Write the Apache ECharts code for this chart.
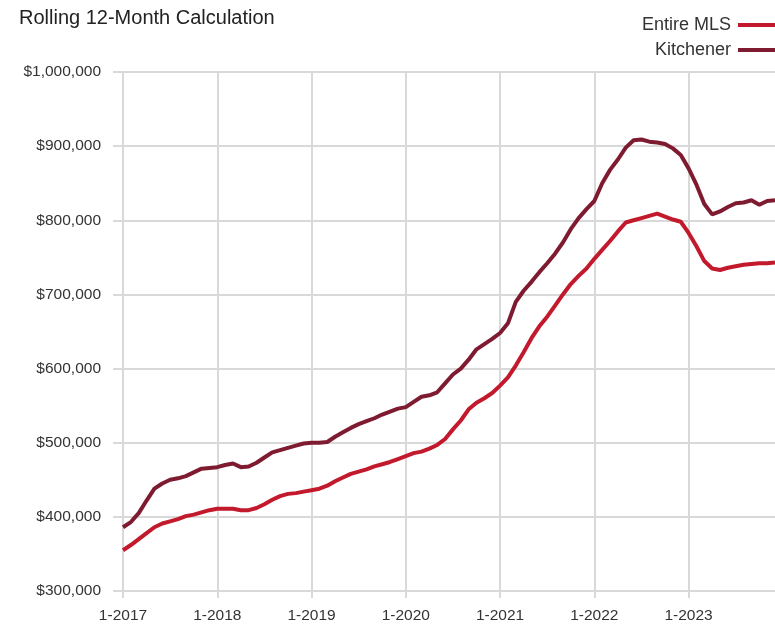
<!DOCTYPE html>
<html><head><meta charset="utf-8">
<script src="https://cdn.jsdelivr.net/npm/echarts@6/dist/echarts.min.js"></script>
<style>html,body{margin:0;padding:0;background:#fff}#c{width:775px;height:625px}</style>
</head><body><div id="c"></div>
<script>
const years = [2017, 2018, 2019, 2020, 2021, 2022, 2023];
const months = [];
years.forEach(y => { for (let m = 1; m <= 12; m++) months.push(m + '-' + y); });

const entireMLS = [
  355, 362, 370, 378, 386, 391, 394, 397, 401, 403, 406, 409,
  411, 411, 411, 409, 409, 412, 417, 423, 428, 431, 432, 434,
  436, 438, 442, 448, 453, 458, 461, 464, 468, 471, 474, 478,
  482, 486, 488, 492, 497, 505, 518, 530, 545, 554, 560, 567,
  577, 588, 604, 622, 641, 657, 670, 685, 700, 714, 725, 735,
  748, 760, 772, 785, 797, 800, 803, 806, 809, 805, 801, 798,
  783, 765, 745, 735, 733, 736, 738, 740, 741, 742, 742, 743
].map(v => v * 1000);

const kitchener = [
  386, 393, 405, 422, 438, 445, 450, 452, 455, 460, 465, 466,
  467, 470, 472, 467, 468, 473, 480, 487, 490, 493, 496, 499,
  500, 500, 501, 508, 514, 520, 525, 529, 533, 538, 542, 546,
  548, 555, 562, 564, 568, 580, 592, 600, 612, 626, 633, 640,
  648, 661, 690, 705, 717, 730, 742, 755, 770, 788, 803, 815,
  826, 850, 868, 882, 898, 908, 909, 906, 905, 903, 897, 888,
  870, 848, 822, 808, 812, 818, 823, 824, 827, 821, 826, 827
].map(v => v * 1000);

const yTicks = [300000, 400000, 500000, 600000, 700000, 800000, 900000, 1000000];

const isJan = (i) => i % 12 === 0;
const gridColor = '#d9d9d9';
const font = '"Liberation Sans", Arial, sans-serif';

const chart = echarts.init(document.getElementById('c'), null, {renderer: 'canvas'});
chart.setOption({
  animation: false,
  backgroundColor: '#fff',
  title: {
    text: 'Rolling 12-Month Calculation',
    left: 14, top: 3,
    textStyle: {fontFamily: font, fontSize: 20, fontWeight: 'normal', color: '#222'}
  },
  legend: {
    orient: 'vertical', align: 'right', right: -8, top: 11,
    itemWidth: 40, itemHeight: 4, itemGap: 7, icon: 'rect',
    textStyle: {fontFamily: font, fontSize: 18, color: '#333', padding: [0, 2, 0, 0]},
    data: ['Entire MLS', 'Kitchener']
  },
  grid: {left: 123, right: 0, top: 72, bottom: 34, containLabel: false},
  xAxis: {
    type: 'category', boundaryGap: false, data: months,
    axisLine: {show: false},
    axisTick: {show: true, interval: isJan, length: 7, lineStyle: {color: gridColor, width: 2}},
    axisLabel: {interval: isJan, margin: 17, fontFamily: font, fontSize: 15.5, color: '#333'},
    splitLine: {show: true, interval: isJan, lineStyle: {color: gridColor, width: 2}}
  },
  yAxis: {
    type: 'value', min: 300000, max: 1000000, interval: 100000,
    axisLine: {show: false},
    axisTick: {show: true, length: 10, lineStyle: {color: gridColor, width: 2}},
    axisLabel: {
      margin: 22, fontFamily: font, fontSize: 15.5, color: '#333',
      formatter: v => yTicks.includes(v) ? '$' + v.toLocaleString('en-US') : ''
    },
    splitLine: {show: true, lineStyle: {color: gridColor, width: 2}}
  },
  series: [
    {name: 'Entire MLS', type: 'line', data: entireMLS, showSymbol: false, symbol: 'none',
     lineStyle: {color: '#c3192c', width: 4}, itemStyle: {color: '#c3192c'}},
    {name: 'Kitchener', type: 'line', data: kitchener, showSymbol: false, symbol: 'none',
     lineStyle: {color: '#7f1b30', width: 4}, itemStyle: {color: '#7f1b30'}}
  ]
});
</script></body></html>
